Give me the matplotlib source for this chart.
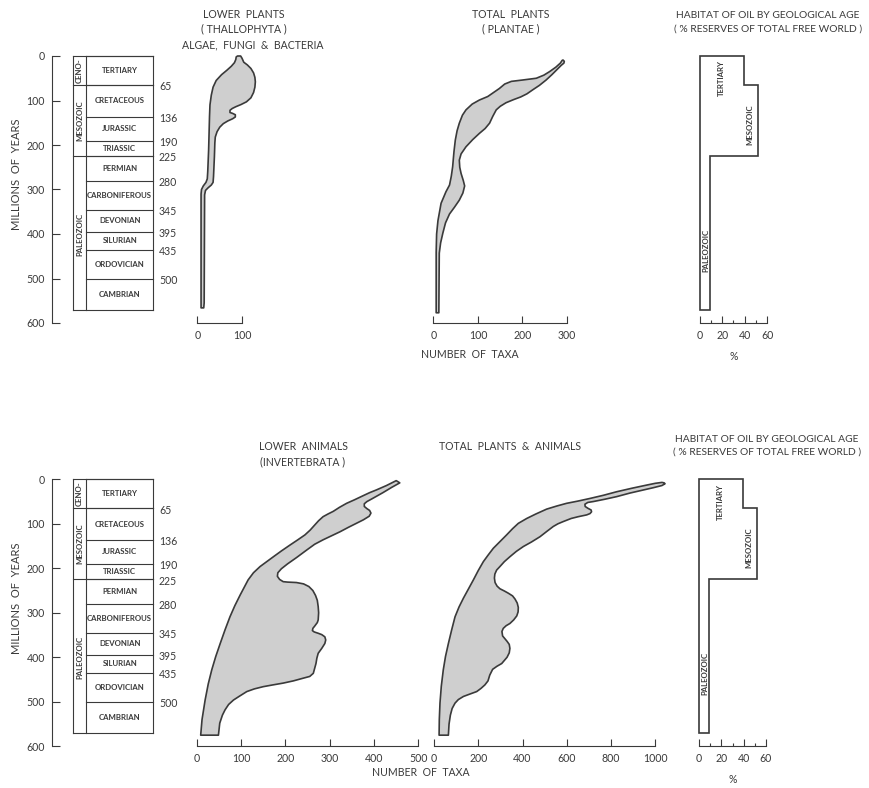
import numpy as np
import matplotlib
matplotlib.use("Agg")
import matplotlib.pyplot as plt

plt.rcParams['font.family'] = ['Lato', 'DejaVu Sans']

W, H = 870, 788
KY = 0.445          # px per million years
INK = "#3a3a3a"
FILL = "#cfcfcf"

# geological column
PERIODS = ["TERTIARY", "CRETACEOUS", "JURASSIC", "TRIASSIC", "PERMIAN",
           "CARBONIFEROUS", "DEVONIAN", "SILURIAN", "ORDOVICIAN", "CAMBRIAN"]
PERIOD_START = [0, 65, 136, 190, 225, 280, 345, 395, 435, 500]
PERIOD_END = [65, 136, 190, 225, 280, 345, 395, 435, 500, 570]
ERAS = ["CENO-", "MESOZOIC", "PALEOZOIC"]
ERA_START = [0, 65, 225]
ERA_END = [65, 225, 570]
TIME_TICKS = [0, 100, 200, 300, 400, 500, 600]

# lower plants (thallophyta): right edge top->bottom, left edge bottom->top
LP_RIGHT_VAL = [97, 100, 104, 112, 120, 126, 129, 130, 129, 126, 120, 110, 98, 86, 78, 73, 73, 79, 85, 85, 79, 68,
                58, 50, 44, 40, 39, 38, 36, 35, 31, 24, 18, 16, 15, 14]
LP_RIGHT_AGE = [0, 5, 14, 20, 28, 38, 48, 58, 70, 82, 94, 103, 109, 114, 118, 122, 127, 129, 132, 137, 141, 146,
                152, 160, 170, 182, 195, 226, 271, 284, 290, 296, 302, 312, 555, 566]
LP_LEFT_VAL = [8, 8, 9, 13, 19, 22, 23, 25, 27, 28, 31, 35, 42, 54, 66, 76, 83, 86, 87, 90]
LP_LEFT_AGE = [566, 310, 300, 292, 284, 276, 260, 211, 136, 110, 88, 70, 55, 42, 32, 23, 15, 8, 2, 0]

# total plants (plantae)
TP_RIGHT_VAL = [291, 294, 293, 287, 278, 266, 253, 238, 223, 210, 196, 180, 163, 150, 141, 133, 126, 116, 103, 88,
                73, 62, 58, 59, 62, 67, 70, 66, 58, 47, 36, 27, 21, 16, 13, 12]
TP_RIGHT_AGE = [9, 12, 16, 21, 30, 42, 54, 66, 76, 85, 92, 98, 105, 113, 121, 136, 151, 163, 174, 188,
                204, 220, 234, 250, 264, 280, 292, 308, 324, 340, 355, 375, 398, 420, 443, 577]
TP_LEFT_VAL = [6, 6, 7, 10, 17, 28, 36, 40, 43, 46, 49, 53, 58, 65, 73, 87, 103, 122, 135, 148, 160, 175, 200,
               231, 248, 261, 275, 285, 289]
TP_LEFT_AGE = [577, 441, 400, 370, 331, 305, 290, 270, 249, 215, 189, 168, 151, 133, 121, 108, 99, 91, 82, 73, 63,
               57, 54, 50, 43, 35, 25, 16, 10]

# lower animals (invertebrata)
LA_RIGHT_VAL = [458, 440, 420, 395, 384, 378, 378, 384, 390, 393, 389, 376, 360, 342, 323, 304, 285, 266, 248, 225,
                205, 191, 183, 182, 187, 195, 205, 225, 241, 253, 262, 268, 272, 274, 275, 274, 272, 266, 262, 261,
                265, 274, 282, 289, 291, 289, 282, 274, 271, 269, 266, 263, 255, 240, 218, 195, 172, 150, 130, 113,
                97, 83, 72, 64, 58, 52, 49]
LA_RIGHT_AGE = [8, 18, 30, 44, 50, 55, 61, 66, 70, 76, 83, 91, 99, 108, 118, 127, 136, 146, 159, 176,
                190, 201, 210, 218, 225, 230, 231, 232, 235, 241, 250, 261, 272, 286, 300, 316, 322, 330, 335, 340,
                343, 346, 349, 354, 361, 369, 380, 391, 402, 414, 425, 436, 443, 447, 453, 458, 462, 466, 471, 477,
                487, 496, 506, 518, 530, 548, 575]
LA_LEFT_VAL = [9, 12, 19, 26, 34, 43, 53, 64, 75, 86, 98, 116, 128, 143, 158, 173, 191, 210, 228, 244, 256, 265,
               275, 285, 296, 308, 322, 338, 356, 375, 390, 405, 428, 450]
LA_LEFT_AGE = [575, 540, 496, 460, 428, 398, 369, 338, 309, 284, 260, 226, 210, 196, 185, 174, 161, 148, 136, 125,
               114, 104, 93, 84, 78, 72, 63, 54, 46, 37, 30, 24, 14, 3]

# total plants & animals
TA_RIGHT_VAL = [1040, 1044, 1030, 990, 946, 885, 825, 770, 720, 695, 682, 683, 695, 710, 712, 705, 690, 652, 620,
                584, 560, 539, 510, 479, 440, 404, 372, 343, 318, 298, 283, 275, 273, 276, 285, 298, 318, 336, 355,
                366, 376, 381, 380, 374, 360, 343, 326, 313, 307, 310, 320, 330, 340, 343, 340, 330, 318, 306, 285,
                265, 252, 244, 230, 212, 193, 160, 133, 110, 95, 82, 74, 68, 65]
TA_RIGHT_AGE = [8, 10, 14, 19, 24, 31, 39, 45, 50, 52, 56, 61, 65, 69, 73, 77, 80, 84, 88,
                95, 100, 106, 117, 129, 141, 151, 162, 174, 185, 196, 204, 213, 222, 232, 240, 246, 251, 256, 262,
                269, 278, 288, 298, 307, 316, 324, 329, 335, 342, 352, 358, 364, 371, 380, 390, 400, 407, 414, 420,
                427, 440, 453, 462, 470, 477, 483, 488, 495, 503, 515, 530, 550, 575]
TA_LEFT_VAL = [23, 24, 27, 33, 42, 52, 65, 80, 95, 113, 133, 155, 178, 200, 223, 245, 268, 298, 328, 355, 381, 419,
               460, 509, 555, 599, 650, 705, 765, 825, 895, 961, 1000, 1030]
TA_LEFT_AGE = [575, 540, 503, 465, 428, 398, 369, 338, 309, 287, 267, 247, 226, 205, 185, 170, 155, 140, 125, 111,
               99, 88, 78, 67, 60, 54, 49, 43, 36, 28, 20, 13, 9, 7]

# habitat of oil (% reserves of total free world)
OIL_ERAS = ["TERTIARY", "MESOZOIC", "PALEOZOIC"]
OIL_START = [0, 65, 225]
OIL_END = [65, 225, 570]
OIL_PCT = [39, 52, 9]

fig = plt.figure(figsize=(W / 100, H / 100), dpi=100)


def ftext(x, y, s, **kw):
    kw.setdefault("fontsize", 7.6)
    kw.setdefault("color", INK)
    kw.setdefault("ha", "center")
    kw.setdefault("va", "center")
    fig.text(x / W, 1 - y / H, s, **kw)


def add_panel(x0, y0, kx, xmin, xmax):
    left = x0 + xmin * kx
    width = (xmax - xmin) * kx
    top = y0 - 20 * KY
    height = 620 * KY
    ax = fig.add_axes([left / W, 1 - (top + height) / H, width / W, height / H])
    ax.set_xlim(xmin, xmax)
    ax.set_ylim(600, -20)
    ax.patch.set_alpha(0)
    for s in ["top", "right", "left"]:
        ax.spines[s].set_visible(False)
    ax.set_yticks([])
    return ax


def taxa_axis(ax, ticks, labels=None):
    ax.spines["bottom"].set_bounds(ticks[0], ticks[-1])
    ax.spines["bottom"].set_color(INK)
    ax.spines["bottom"].set_linewidth(0.8)
    ax.set_xticks(ticks)
    ax.set_xticklabels(labels if labels is not None else [str(t) for t in ticks])
    ax.tick_params(axis="x", direction="in", length=5, width=0.8, colors=INK, labelsize=7.6, pad=5)


def draw_shape(ax, rv, ra, lv, la):
    xs = list(rv) + list(lv)
    ys = list(ra) + list(la)
    ax.fill(xs, ys, facecolor=FILL, edgecolor=INK, linewidth=1.2, joinstyle="round", clip_on=False)


def time_column(y0):
    ax = add_panel(52, y0, 1.0, 0, 140)
    ax.spines["bottom"].set_visible(False)
    ax.set_xticks([])
    ax.spines["left"].set_visible(True)
    ax.spines["left"].set_bounds(0, 600)
    ax.spines["left"].set_color(INK)
    ax.spines["left"].set_linewidth(0.8)
    ax.set_yticks(TIME_TICKS)
    ax.tick_params(axis="y", direction="in", length=6, width=0.8, colors=INK, labelsize=7.6, pad=5)
    ftext(17, y0 + 300 * KY - 15, "MILLIONS  OF  YEARS", rotation=90, fontsize=8)

    xa, xb, xc = 21, 34.5, 101   # column edges relative to spine
    lc = dict(color=INK, linewidth=0.8)
    ax.plot([xa, xa], [0, 570], **lc)
    ax.plot([xb, xb], [0, 570], **lc)
    ax.plot([xc, xc], [0, 570], **lc)
    for s in ERA_START + [570]:
        ax.plot([xa, xc], [s, s], **lc)
    for s, e, name in zip(PERIOD_START, PERIOD_END, PERIODS):
        ax.plot([xb, xc], [s, s], **lc)
        ax.text((xb + xc) / 2, (s + e) / 2, name, ha="center", va="center",
                fontsize=5.6, fontweight="bold", color=INK)
    for s, e, name in zip(ERA_START, ERA_END, ERAS):
        mid = (s + e) / 2 if name != "PALEOZOIC" else 400
        ax.text((xa + xb) / 2, mid, name, ha="center", va="center", rotation=90,
                fontsize=5.6, fontweight="bold", color=INK)
    for e in PERIOD_END[:-1]:
        ax.text(xc + 6, e + 4, str(e), ha="left", va="center", fontsize=7.6, color=INK)


def oil_panel(y0, x0):
    ax = add_panel(x0, y0, 67 / 60, 0, 70)
    xs, ys = [0], [0]
    for s, e, p in zip(OIL_START, OIL_END, OIL_PCT):
        xs += [p, p]
        ys += [s, e]
    xs += [0]
    ys += [OIL_END[-1]]
    ax.fill(xs, ys, facecolor="white", edgecolor=INK, linewidth=1.2, clip_on=False)
    kw = dict(rotation=90, ha="center", va="center", fontsize=5.6, fontweight="bold", color=INK)
    ax.text(19.5, 50, OIL_ERAS[0], **kw)
    ax.text(45, 154, OIL_ERAS[1], **kw)
    ax.text(5, 436, OIL_ERAS[2], **kw)
    taxa_axis(ax, [0, 20, 40, 60])
    ax.set_xticks([10, 30, 50], minor=True)
    ax.tick_params(axis="x", which="minor", direction="in", length=2.5, width=0.8, colors=INK)
    ftext(x0 + 68, y0 - 40, "HABITAT OF OIL BY GEOLOGICAL AGE", fontsize=7.4)
    ftext(x0 + 68, y0 - 27, "( % RESERVES OF TOTAL FREE WORLD )", fontsize=7.4)
    ftext(x0 + 34, y0 + 600 * KY + 33, "%")


# ---------------- top row ----------------
Y_TOP = 56
time_column(Y_TOP)

ax = add_panel(197.5, Y_TOP, KY, 0, 140)
draw_shape(ax, LP_RIGHT_VAL, LP_RIGHT_AGE, LP_LEFT_VAL, LP_LEFT_AGE)
taxa_axis(ax, [0, 100])
ftext(244, 15, "LOWER  PLANTS")
ftext(244, 29, "( THALLOPHYTA )")
ftext(253, 45, "ALGAE,  FUNGI  &  BACTERIA")

ax = add_panel(433.5, Y_TOP, KY, 0, 310)
draw_shape(ax, TP_RIGHT_VAL, TP_RIGHT_AGE, TP_LEFT_VAL, TP_LEFT_AGE)
taxa_axis(ax, [0, 100, 200, 300])
ftext(511, 15, "TOTAL  PLANTS")
ftext(511, 29, "( PLANTAE )")
ftext(470, 355, "NUMBER  OF  TAXA")

oil_panel(Y_TOP, 700)

# ---------------- bottom row ----------------
Y_BOT = 479.3
time_column(Y_BOT)

ax = add_panel(196.7, Y_BOT, 0.4434, 0, 500)
draw_shape(ax, LA_RIGHT_VAL, LA_RIGHT_AGE, LA_LEFT_VAL, LA_LEFT_AGE)
taxa_axis(ax, [0, 100, 200, 300, 400, 500])
ftext(303, 447, "LOWER  ANIMALS")
ftext(303, 462, "(INVERTEBRATA )")

ax = add_panel(434, Y_BOT, 0.2213, 0, 1000)
draw_shape(ax, TA_RIGHT_VAL, TA_RIGHT_AGE, TA_LEFT_VAL, TA_LEFT_AGE)
taxa_axis(ax, [0, 200, 400, 600, 800, 1000])
ftext(510, 447, "TOTAL  PLANTS  &  ANIMALS")
ftext(421, 773, "NUMBER  OF  TAXA")

oil_panel(Y_BOT, 699)

fig.savefig("out.png", dpi=100, facecolor="white")
